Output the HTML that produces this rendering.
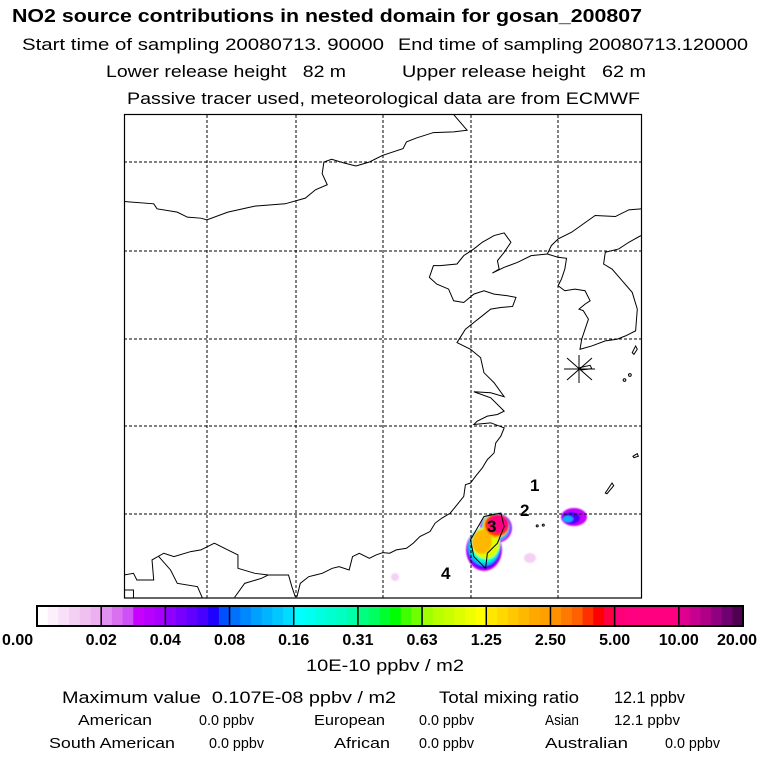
<!DOCTYPE html>
<html><head><meta charset="utf-8"><style>
html,body{margin:0;padding:0;background:#fff;width:768px;height:768px;overflow:hidden}
svg{display:block}
text{font-family:"Liberation Sans",sans-serif;fill:#000}
</style></head><body>
<svg id="root" width="768" height="768" viewBox="0 0 768 768">
<defs><filter id="soft" x="-20%" y="-20%" width="140%" height="140%"><feGaussianBlur stdDeviation="0.8"/></filter></defs>
<g>
<text x="12" y="22" font-size="18" font-weight="bold" textLength="630" lengthAdjust="spacingAndGlyphs">NO2 source contributions in nested domain for gosan_200807</text>
<text x="22" y="50" font-size="17" textLength="362" lengthAdjust="spacingAndGlyphs">Start time of sampling 20080713. 90000</text>
<text x="398" y="50" font-size="17" textLength="350" lengthAdjust="spacingAndGlyphs">End time of sampling 20080713.120000</text>
<text x="106" y="77" font-size="17" textLength="240" lengthAdjust="spacingAndGlyphs" xml:space="preserve">Lower release height   82 m</text>
<text x="402" y="77" font-size="17" textLength="244" lengthAdjust="spacingAndGlyphs" xml:space="preserve">Upper release height   62 m</text>
<text x="127" y="104" font-size="17" textLength="513" lengthAdjust="spacingAndGlyphs">Passive tracer used, meteorological data are from ECMWF</text>
</g>
<g id="map">
<rect x="124" y="114" width="518" height="484" fill="#fff" stroke="none"/>
<g id="plume" filter="url(#soft)"></g>
<g id="grid"></g>
<g transform="translate(120,108.5) scale(0.337,0.3344)" fill="none" stroke="#000" stroke-width="1">
<polyline vector-effect="non-scaling-stroke" points="12,278 100,285 110,300 170,310 200,325 240,328 258,333 320,310 400,292 490,285 550,268 580,243 615,228 600,195 605,160 628,152 665,163 700,172 740,160 780,140 840,120 850,100 880,88 930,72 990,70 1030,65 990,18"/>
<polyline vector-effect="non-scaling-stroke" points="1268,435 1220,440 1180,460 1140,475 1105,492 1125,480 1120,455 1140,430 1160,400 1140,372 1110,380 1075,400 1050,420 1020,440 1000,465 950,470 930,470 918,505 940,525 975,540 990,575 1020,580 1050,555 1080,545 1110,555 1150,560 1175,565 1165,592 1130,595 1100,600 1075,620 1050,640 1025,660 1000,700 1040,720 1070,745 1080,790 1110,820 1140,862 1100,850 1050,847 1100,865 1140,905 1120,915 1090,920 1060,935 1050,945 1100,940 1140,955 1130,980 1115,1000 1110,1030 1090,1050 1075,1075 1055,1100 1040,1120 1025,1125 1020,1160 1000,1185 980,1210 955,1225 935,1240 920,1265 890,1280 870,1300 850,1315 820,1320 800,1330 780,1328 760,1335 740,1345 710,1330 690,1340 680,1380 650,1370 630,1375 600,1390 580,1395 560,1400 535,1420 525,1460"/>
<polyline vector-effect="non-scaling-stroke" points="1546,300 1510,303 1470,323 1410,320 1375,345 1340,370 1300,390 1280,410 1268,435"/>
<polyline vector-effect="non-scaling-stroke" points="1268,435 1300,445 1325,448 1320,480 1310,510 1300,530 1320,545 1350,540 1380,545 1395,575 1380,585 1362,600 1375,605 1390,630 1380,660 1370,690 1365,720 1400,710 1440,695 1475,690 1500,680 1530,665 1535,600 1520,550 1490,515 1460,480 1435,465 1440,430 1480,420 1510,400 1546,380"/>
<polygon vector-effect="non-scaling-stroke" points="1040,1290 1080,1220 1130,1210 1140,1250 1120,1300 1090,1330 1085,1375 1050,1340"/>
<polyline vector-effect="non-scaling-stroke" points="12,1395 40,1390 50,1410 100,1410 95,1350 130,1330 160,1340 210,1325 240,1320 280,1300 320,1320 350,1335 350,1375 400,1390 440,1395 500,1395 510,1430 520,1460"/>
<polyline vector-effect="non-scaling-stroke" points="115,1340 150,1380 170,1420 230,1430 245,1465"/>
<polyline vector-effect="non-scaling-stroke" points="340,1462 370,1420 420,1405 440,1395"/>
<polyline vector-effect="non-scaling-stroke" points="12,1440 40,1440 40,1465"/>
<polygon vector-effect="non-scaling-stroke" points="1365,775 1395,768 1400,778 1368,782"/>
<polygon vector-effect="non-scaling-stroke" points="1520,730 1530,710 1535,720 1525,735"/>
<polygon vector-effect="non-scaling-stroke" points="1440,1150 1460,1120 1465,1128 1445,1152"/>
<polygon vector-effect="non-scaling-stroke" points="1522,1040 1535,1032 1538,1040 1525,1044"/>
<circle vector-effect="non-scaling-stroke" cx="1497" cy="812" r="4"/>
<circle vector-effect="non-scaling-stroke" cx="1513" cy="797" r="4"/>
<circle vector-effect="non-scaling-stroke" cx="1238" cy="1248" r="3"/>
<circle vector-effect="non-scaling-stroke" cx="1256" cy="1246" r="3"/>
</g>
<g stroke="#000" stroke-width="1">
<line x1="567" y1="358" x2="592" y2="380"/><line x1="567" y1="380" x2="592" y2="358"/><line x1="579" y1="355" x2="579" y2="383"/><line x1="564" y1="369" x2="595" y2="369"/>
</g>
<g font-size="17" font-weight="bold">
<text x="530" y="491">1</text>
<text x="520" y="516">2</text>
<text x="487" y="532">3</text>
<text x="441" y="579">4</text>
</g>
<rect x="124.5" y="114.5" width="517" height="483.5" fill="none" stroke="#000" stroke-width="1.2"/>
</g>
<g id="colorbar"></g>
<g font-size="17">
<text x="306" y="671" textLength="158" lengthAdjust="spacingAndGlyphs">10E-10 ppbv / m2</text>
<text x="62" y="703" textLength="334" lengthAdjust="spacingAndGlyphs" xml:space="preserve">Maximum value  0.107E-08 ppbv / m2</text>
<text x="439" y="703" textLength="140" lengthAdjust="spacingAndGlyphs">Total mixing ratio</text>
<text x="614" y="703" textLength="71" lengthAdjust="spacingAndGlyphs">12.1 ppbv</text>
</g>
<g font-size="15">
<text x="78" y="725" textLength="74" lengthAdjust="spacingAndGlyphs">American</text>
<text x="199" y="725" textLength="55" lengthAdjust="spacingAndGlyphs">0.0 ppbv</text>
<text x="314" y="725" textLength="71" lengthAdjust="spacingAndGlyphs">European</text>
<text x="419" y="725" textLength="55" lengthAdjust="spacingAndGlyphs">0.0 ppbv</text>
<text x="545" y="725" textLength="34" lengthAdjust="spacingAndGlyphs">Asian</text>
<text x="614" y="725" textLength="66" lengthAdjust="spacingAndGlyphs">12.1 ppbv</text>
<text x="49" y="748" textLength="126" lengthAdjust="spacingAndGlyphs">South American</text>
<text x="209" y="748" textLength="55" lengthAdjust="spacingAndGlyphs">0.0 ppbv</text>
<text x="334" y="748" textLength="56" lengthAdjust="spacingAndGlyphs">African</text>
<text x="419" y="748" textLength="55" lengthAdjust="spacingAndGlyphs">0.0 ppbv</text>
<text x="545" y="748" textLength="83" lengthAdjust="spacingAndGlyphs">Australian</text>
<text x="665" y="748" textLength="55" lengthAdjust="spacingAndGlyphs">0.0 ppbv</text>
</g>
</svg>
<script>
const NS='http://www.w3.org/2000/svg';
const tickLabels=['0.00','0.02','0.04','0.08','0.16','0.31','0.63','1.25','2.50','5.00','10.00','20.00'];
const segColors=[
['#ffffff','#fdf0fd','#f9e0f9','#f5d0f5','#f0c0f0','#ebb0f0'],
['#e090f0','#d870f0','#d050f8','#c800ff','#b800ff','#a800ff'],
['#9000ff','#7800ff','#6000ff','#4800ff','#2000ff','#0050ff'],
['#0070ff','#0088ff','#00a0ff','#00b4ff','#00c8ff','#00dcff'],
['#00ffff','#00fff0','#00ffe0','#00ffd0','#00ffc0','#00ffa8'],
['#00ff80','#00ff60','#00ff30','#00ff00','#40ff00','#70ff00'],
['#a0ff00','#b8ff00','#c8ff00','#dcff00','#eeff00','#ffff00'],
['#ffe800','#ffd800','#ffc800','#ffb800','#ffa800','#ffa000'],
['#ff9000','#ff7800','#ff6000','#ff3000','#ff0000','#ff0040'],
['#ff0078','#ff0080','#ff0080','#ff0080','#ff0080','#ff0080'],
['#e00090','#c80090','#b00088','#900080','#700070','#500050']];
const gridLon=[207,296,383,471,558];
const gridLat=[162,251,339,426,514];
// plume blobs drawn outer->inner
const plumeX=[484,496,484,496,484,496,485,495,486,496,482,497,498,574,571,568,530,395];
const plumeY=[550,528,549,527,547,527,545,526,543,526,542,525,524,517,518,519,558,577];
const plumeRx=[18,16,17,15,16,14,15,13,14,13,10,12,10,13,9,5,6,4];
const plumeRy=[21,15,20,14,19,14,18,13,16,12,12,11,9,9,6,3,5,4];
const plumeLevel=[1,1,2,2,3,3,4,4,6,7,7,8,9,1,2,3,0,0];

const cb=document.getElementById('colorbar');
const bx0=37,bx1=743,by=606,bh=20;
const segW=(bx1-bx0)/segColors.length;
function sx(i){return bx0+i*segW;}
segColors.forEach((cols,i)=>{
  const sub=segW/cols.length;
  cols.forEach((c,j)=>{
    const r=document.createElementNS(NS,'rect');
    r.setAttribute('x',sx(i)+j*sub);r.setAttribute('y',by);
    r.setAttribute('width',sub+0.5);r.setAttribute('height',bh);
    r.setAttribute('fill',c);
    
    
    cb.appendChild(r);
  });
  const d=document.createElementNS(NS,'line');
  d.setAttribute('x1',sx(i));d.setAttribute('x2',sx(i));d.setAttribute('y1',by);d.setAttribute('y2',by+bh);
  d.setAttribute('stroke','#000');d.setAttribute('stroke-width','1.5');
  
  
  cb.appendChild(d);
});
const fr=document.createElementNS(NS,'rect');
fr.setAttribute('x',bx0);fr.setAttribute('y',by);fr.setAttribute('width',bx1-bx0);fr.setAttribute('height',bh);
fr.setAttribute('fill','none');fr.setAttribute('stroke','#000');fr.setAttribute('stroke-width','2');


cb.appendChild(fr);
tickLabels.forEach((t,i)=>{
  if(i===0){return;}
  const tx=document.createElementNS(NS,'text');
  let x=sx(i);
  let anchor='middle';
  if(i===tickLabels.length-1){x=bx1+14;anchor='end';}
  tx.setAttribute('x',x);tx.setAttribute('y',645);
  tx.setAttribute('text-anchor',anchor);
  tx.setAttribute('font-size','16');tx.setAttribute('font-weight','bold');
  tx.textContent=t;
  
  
  cb.appendChild(tx);
});
const t0=document.createElementNS(NS,'text');
t0.setAttribute('x',2);t0.setAttribute('y',645);t0.setAttribute('font-size','16');t0.setAttribute('font-weight','bold');
t0.textContent=tickLabels[0];


cb.appendChild(t0);

const g=document.getElementById('grid');
gridLon.forEach(x=>{
  const l=document.createElementNS(NS,'line');
  l.setAttribute('x1',x);l.setAttribute('x2',x);l.setAttribute('y1',115);l.setAttribute('y2',598);
  l.setAttribute('stroke','#000');l.setAttribute('stroke-dasharray','3,2');l.setAttribute('stroke-width','1');
  
  
  g.appendChild(l);
});
gridLat.forEach(y=>{
  const l=document.createElementNS(NS,'line');
  l.setAttribute('x1',124);l.setAttribute('x2',642);l.setAttribute('y1',y);l.setAttribute('y2',y);
  l.setAttribute('stroke','#000');l.setAttribute('stroke-dasharray','3,2');l.setAttribute('stroke-width','1');
  
  
  g.appendChild(l);
});
const p=document.getElementById('plume');
plumeX.forEach((x,i)=>{
  const e=document.createElementNS(NS,'ellipse');
  e.setAttribute('cx',x);e.setAttribute('cy',plumeY[i]);
  e.setAttribute('rx',plumeRx[i]);e.setAttribute('ry',plumeRy[i]);
  const cols=segColors[plumeLevel[i]];
  e.setAttribute('fill',cols[3]);
  
  
  p.appendChild(e);
});
</script>
</body></html>
